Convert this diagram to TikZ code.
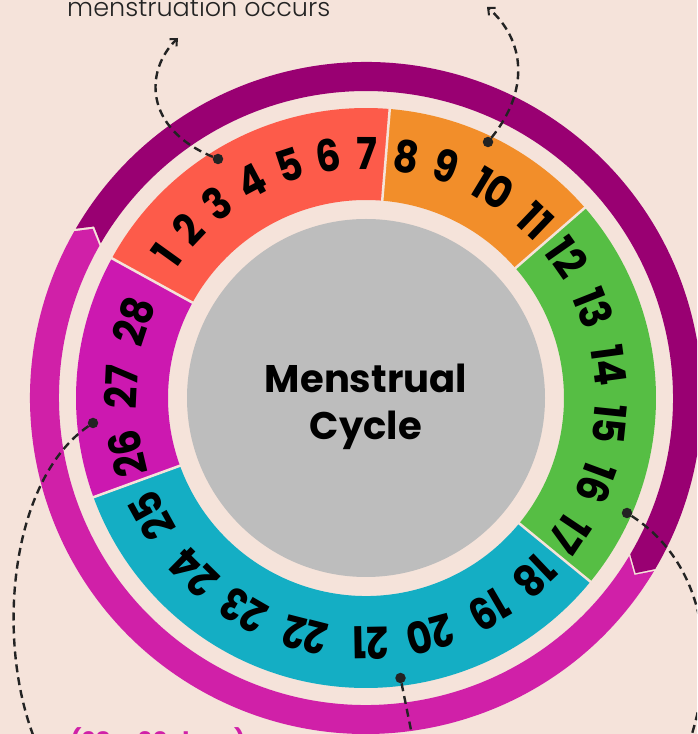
\documentclass[tikz,border=0pt]{standalone}
\usepackage{fontspec}
\setmainfont{Poppins}
\newfontfamily\lightfont{Poppins Light}
\newfontfamily\numfont[FakeStretch=0.88]{Poppins}
\usetikzlibrary{arrows.meta}
\definecolor{bgc}{RGB}{245,227,218}
\definecolor{dpurple}{RGB}{153,0,114}
\definecolor{mag}{RGB}{208,32,168}
\definecolor{segred}{RGB}{253,91,74}
\definecolor{segorange}{RGB}{242,142,42}
\definecolor{seggreen}{RGB}{86,190,68}
\definecolor{segcyan}{RGB}{20,174,196}
\definecolor{segmag}{RGB}{204,24,176}
\definecolor{disk}{RGB}{189,189,189}
\definecolor{ink}{RGB}{35,35,35}
\begin{document}
\begin{tikzpicture}[x=1pt,y=1pt,
  daynum/.style={font=\numfont\bfseries\fontsize{44}{44}\selectfont, inner sep=0pt, text=black},
  titletext/.style={font=\bfseries\fontsize{38.5}{38.5}\selectfont, inner sep=0pt, text=black, anchor=base},
  dotn/.style={circle, fill=ink, minimum size=10.5pt, inner sep=0pt},
  conn/.style={draw=ink, line width=2.4pt, dash pattern=on 8pt off 5pt},
  tipped/.style={-{Straight Barb[length=5.5pt,width=10pt,line width=2pt]}},
  sep/.style={draw=bgc, line width=2.5pt}]
\useasboundingbox (0,0) rectangle (697,734);
\fill[bgc] (0,0) rectangle (697,734);
\begin{scope}
\clip (0,0) rectangle (697,734);
\begin{scope}[shift={(366,336)}]
  % outer arrows
  \fill[dpurple] (149.75:336pt) arc[start angle=149.75, end angle=-30.6, radius=336pt]
     -- (-33:321.5pt) -- (-30.6:307pt) arc[start angle=-30.6, end angle=149.75, radius=307pt]
     -- (147.75:321.5pt) -- cycle;
  \fill[mag] (150.25:336pt) arc[start angle=150.25, end angle=329.0, radius=336pt]
     -- (326.6:321.5pt) -- (329.0:307pt) arc[start angle=329.0, end angle=150.25, radius=307pt]
     -- (148.25:321.5pt) -- cycle;
  % ring segments
  \foreach \a/\b/\c in {85.3/151.2/segred, 41/85.3/segorange, -39.3/41/seggreen, 200/320.7/segcyan, 151.2/200/segmag}{
    \fill[\c] (\a:198pt) arc[start angle=\a, end angle=\b, radius=198pt]
      -- (\b:290pt) arc[start angle=\b, end angle=\a, radius=290pt] -- cycle;
  }
  \foreach \a in {85.3,151.2,41,-39.3,200}{
    \draw[sep] (\a:196pt) -- (\a:292pt);
  }
  \fill[disk] (0,0) circle[radius=179pt];
  % day numbers
  \foreach \n/\a in {1/144.3,2/136.6,3/127.5,4/117.9,5/108.2,6/98.8,7/89.8,8/80.6,9/71,10/58.8,
     11/46.3,12/35,13/21.6,14/7.7,15/-6,16/-20.3,17/-33.8,18/-46.6,19/-59.7,20/-74.8,
     21/-89,22/-104.3,23/-120,24/-134.6,25/-151.2,26/-166.8,27/-182.6,28/-198.2}{
    \node[daynum, rotate=\a-90] (day\n) at (\a:245pt) {\n};
  }
\end{scope}
\node[titletext] (t1) at (366,341) {Menstrual};
\node[titletext] (t2) at (366,294) {Cycle};
% texts
\node[anchor=base west, inner sep=0pt, text=ink, font=\lightfont\fontsize{25.5}{25.5}\selectfont] (toptext) at (67,717) {menstruation occurs};
\node[anchor=base west, inner sep=0pt, text=mag, font=\bfseries\fontsize{24}{24}\selectfont] (cap) at (70,-16) {(28 -- 30 days)};
% connectors
\node[dotn] (d1) at (218,575) {};
\coordinate (a1) at (178,696);
\draw[conn, tipped] (d1) .. controls (143,606) and (145,664) .. (a1);
\node[dotn] (d2) at (488,592) {};
\coordinate (a2) at (487,727);
\draw[conn, tipped] (d2) .. controls (530,644) and (525,694) .. (a2);
\node[dotn] (d3) at (627,221) {};
\coordinate (e3) at (690,-6);
\draw[conn] (d3) .. controls (700,174) and (720,84) .. (e3);
\node[dotn] (d4) at (400.5,56) {};
\coordinate (e4) at (413,-6);
\draw[conn] (d4) -- (e4);
\node[dotn] (d5) at (93,311) {};
\coordinate (e5) at (35,-6);
\draw[conn] (d5) .. controls (10,254) and (-5,94) .. (e5);
\end{scope}
\end{tikzpicture}
\end{document}
